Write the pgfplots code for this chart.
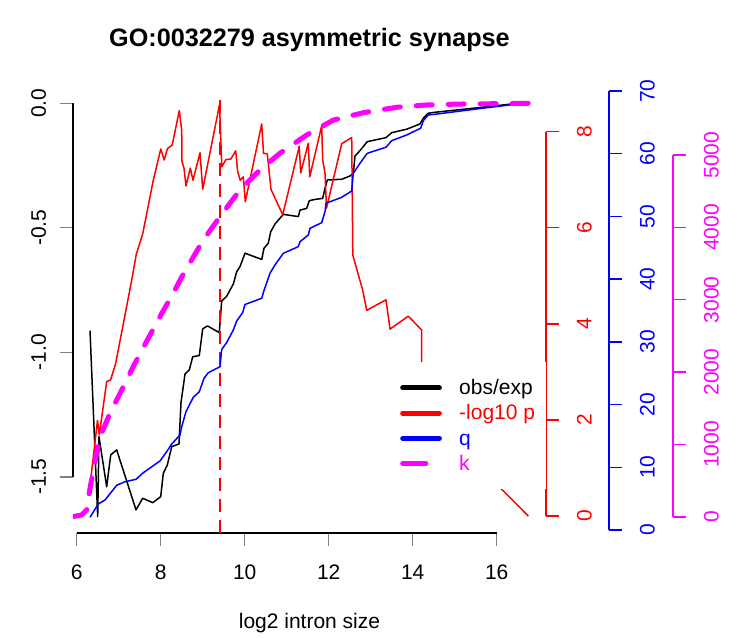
\documentclass[border=0pt]{standalone}
\usepackage{fontspec}
\setmainfont{Liberation Sans}
\usepackage{pgfplots}
\pgfplotsset{compat=1.18}
\definecolor{rred}{RGB}{255,0,0}
\definecolor{rblue}{RGB}{0,0,255}
\definecolor{rmag}{RGB}{255,0,255}
\newcommand{\tfont}{\fontsize{21}{25}\selectfont}
\newcommand{\lt}[1]{\vrule height15pt depth3pt width0pt\smash{\makebox[78.5pt][l]{#1}}}
\pgfplotsset{
 deco/.style={scale only axis, anchor=south west, xmin=0, xmax=1, ymin=0, ymax=1,
   tick align=outside, major tick length=12.7pt, minor tick num=0,
   axis line style={line width=1.4pt}, tick style={line width=1.4pt},
   ticklabel style={font=\tfont, inner sep=0pt}},
 data/.style={scale only axis, anchor=south west, at={(73pt,104pt)}, width=473pt, height=440.3pt,
   xmin=5.912, xmax=17.174, hide axis},
 legimg/.style={legend image code/.code={\path[draw=none,fill=none] (0pt,-9pt) rectangle (42pt,9pt);
   \draw[#1, line width=5pt, line cap=round, solid] (2.5pt,0pt) -- (39.2pt,0pt);}},
 legimgk/.style={legend image code/.code={\path[draw=none,fill=none] (0pt,-9pt) rectangle (42pt,9pt);
   \draw[rmag, line width=5pt, line cap=round, solid] (2.5pt,0pt) -- (25.8pt,0pt);}},
}
\begin{document}
\begin{tikzpicture}
\useasboundingbox (0,0) rectangle (751pt,637pt);
% left axis
\begin{axis}[deco, at={(73pt,160.2pt)}, width=10pt, height=373.5pt, axis x line=none, axis y line*=left,
  ymin=-1.5, ymax=0, ytick={-1.5,-1,-0.5,0}, yticklabels={-1.5,-1.0,-0.5,0.0},
  yticklabel shift=14pt, yticklabel style={rotate=90, anchor=south}]
\end{axis}
% bottom axis
\begin{axis}[deco, at={(76.7pt,104pt)}, width=420pt, height=10pt, axis y line=none, axis x line*=bottom,
  xmin=6, xmax=16, xtick={6,8,10,12,14,16}, xticklabels={6,8,10,12,14,16},
  xticklabel shift=19pt, xticklabel style={anchor=north}]
\end{axis}
% red axis
\begin{axis}[deco, at={(536pt,121pt)}, width=10pt, height=384.3pt, axis x line=none, axis y line*=right,
  ymin=0, ymax=8, ytick={0,2,4,6,8}, yticklabels={0,2,4,6,8}, yticklabel shift=18pt,
  axis line style={rred}, tick style={rred}, yticklabel style={rotate=90, anchor=north, text=rred}]
\end{axis}
% blue axis
\begin{axis}[deco, at={(599pt,107pt)}, width=10pt, height=439pt, axis x line=none, axis y line*=right,
  ymin=0, ymax=70, ytick={0,10,20,30,40,50,60,70}, yticklabels={0,10,20,30,40,50,60,70}, yticklabel shift=18pt,
  axis line style={rblue}, tick style={rblue}, yticklabel style={rotate=90, anchor=north, text=rblue}]
\end{axis}
% magenta axis
\begin{axis}[deco, at={(663pt,120pt)}, width=10pt, height=362pt, axis x line=none, axis y line*=right,
  ymin=0, ymax=5000, ytick={0,1000,2000,3000,4000,5000}, yticklabels={0,1000,2000,3000,4000,5000}, yticklabel shift=18pt,
  axis line style={rmag}, tick style={rmag}, yticklabel style={rotate=90, anchor=north, text=rmag}]
\end{axis}
% obs/exp
\begin{axis}[data, ymin=-1.7257, ymax=0.04257,
  title={GO:0032279 asymmetric synapse},
  title style={font=\fontsize{25.2}{30}\selectfont\bfseries, at={(axis description cs:0.5,1)}, anchor=base, yshift=39.7pt}]
\addplot[black, line width=1.5pt, line join=round] coordinates {
(6.317,-0.913) (6.500,-1.660) (6.531,-1.339) (6.714,-1.540) (6.810,-1.412) (6.952,-1.392)
(7.412,-1.633) (7.571,-1.586) (7.810,-1.604) (8.000,-1.580) (8.062,-1.486) (8.157,-1.453)
(8.262,-1.379) (8.436,-1.368) (8.483,-1.202) (8.579,-1.087) (8.681,-1.071) (8.762,-1.018)
(8.919,-1.013) (9.000,-0.906) (9.114,-0.894) (9.395,-0.921) (9.452,-0.794) (9.571,-0.775)
(9.650,-0.750) (9.729,-0.726) (9.810,-0.676) (9.888,-0.656) (10.007,-0.602) (10.405,-0.627)
(10.460,-0.582) (10.562,-0.562) (10.619,-0.516) (10.721,-0.485) (10.919,-0.446) (11.276,-0.455)
(11.317,-0.429) (11.476,-0.422) (11.538,-0.391) (11.674,-0.386) (11.857,-0.382) (11.912,-0.341)
(11.967,-0.308) (12.310,-0.305) (12.507,-0.292) (12.586,-0.281) (12.626,-0.212) (12.745,-0.190)
(12.919,-0.154) (13.364,-0.138) (13.500,-0.118) (13.857,-0.104) (14.174,-0.083) (14.252,-0.060)
(14.371,-0.040) (14.531,-0.036) (15.60,-0.017) (16.51,0.000)};
\addplot[rred, line width=1.5pt, dash pattern=on 13pt off 8pt] coordinates {(9.41,-1.7257) (9.41,0.04257)};
\end{axis}
% -log10 p
\begin{axis}[data, ymin=-0.3539, ymax=8.8114]
\addplot[rred, line width=1.5pt, line join=round] coordinates {
(6.305,0.54) (6.495,1.99) (6.538,1.69) (6.714,2.80) (6.805,2.83) (6.924,3.16) (7.310,4.91)
(7.419,5.45) (7.571,5.87) (7.824,6.99) (8.002,7.64) (8.083,7.41) (8.162,7.65) (8.274,7.72)
(8.443,8.44) (8.500,8.03) (8.507,7.38) (8.555,7.24) (8.602,6.87) (8.705,7.24) (8.769,6.99)
(8.936,7.56) (9.000,6.80) (9.400,8.56) (9.455,7.27) (9.555,7.42) (9.669,7.43) (9.786,7.60)
(9.833,7.17) (9.893,6.99) (9.967,7.06) (10.014,6.54) (10.405,8.16) (10.448,7.55) (10.538,7.54)
(10.626,6.80) (10.905,6.27) (11.300,7.70) (11.333,7.14) (11.514,7.76) (11.548,7.06) (11.833,8.12)
(11.857,7.41) (11.912,7.14) (11.948,6.41) (12.310,7.75) (12.548,7.88) (12.574,5.43) (12.810,4.70)
(12.905,4.28) (13.364,4.50) (13.460,3.89) (13.895,4.16) (14.214,3.87) (14.217,2.40) (15.20,1.30)
(16.119,0.556) (16.752,0.0)};
\end{axis}
% q
\begin{axis}[data, ymin=-0.478, ymax=69.73]
\addplot[rblue, line width=1.5pt, line join=round] coordinates {
(6.317,2.03) (6.514,4.15) (6.674,4.78) (6.952,7.13) (7.150,7.70) (7.412,8.08) (7.586,9.14)
(7.983,11.00) (8.126,12.33) (8.262,13.71) (8.460,15.15) (8.500,16.47) (8.602,18.86) (8.776,21.16)
(8.919,22.05) (9.031,24.19) (9.133,25.08) (9.412,26.04) (9.452,28.78) (9.571,29.90) (9.729,31.89)
(9.810,33.33) (9.952,34.68) (10.007,35.96) (10.405,36.95) (10.460,38.19) (10.602,40.93) (10.721,42.26)
(10.919,44.12) (11.276,45.18) (11.317,45.97) (11.514,47.04) (11.555,48.11) (11.833,49.00) (11.912,50.76)
(11.936,52.10) (12.310,53.05) (12.548,54.06) (12.586,56.88) (12.745,58.48) (12.919,60.07) (13.364,61.03)
(13.500,62.08) (13.857,62.99) (14.190,64.06) (14.252,65.27) (14.371,66.18) (14.531,66.29) (15.60,67.2)
(16.51,67.93)};
\end{axis}
% k
\begin{axis}[data, ymin=-221, ymax=5860.5, legend cell align=left,
  legend style={at={(axis description cs:0.6744,0.3884)}, anchor=north west, draw=none, fill=white,
    inner xsep=8pt, inner ysep=16.7pt, row sep=7.2pt, column sep=17pt, font=\tfont,
    nodes={inner sep=0pt}}]
\addplot[rmag, line width=5pt, line cap=round, line join=round, dash pattern=on 16pt off 16pt, forget plot] coordinates {
(5.919,7) (6.119,28) (6.238,97) (6.317,396) (6.436,764) (6.555,1109) (6.793,1432) (7.071,1754)
(7.388,2123) (7.705,2468) (7.983,2767) (8.340,3135) (8.500,3315) (9.014,3826) (9.412,4148)
(9.888,4517) (10.364,4793) (10.840,5024) (11.476,5276) (12.110,5483) (12.824,5584) (13.619,5659)
(14.333,5691) (15.126,5704) (16.079,5709) (16.793,5714)};
\addlegendimage{legimg=black}
\addlegendentry{\lt{obs/exp}}
\addlegendimage{legimg=rred}
\addlegendentry{\lt{\textcolor{rred}{-log10 p}}}
\addlegendimage{legimg=rblue}
\addlegendentry{\lt{\textcolor{rblue}{q}}}
\addlegendimage{legimgk}
\addlegendentry{\lt{\textcolor{rmag}{k}}}
\end{axis}
\node[font=\tfont, anchor=base] at (309.5pt,9pt) {log2 intron size};
\end{tikzpicture}
\end{document}
